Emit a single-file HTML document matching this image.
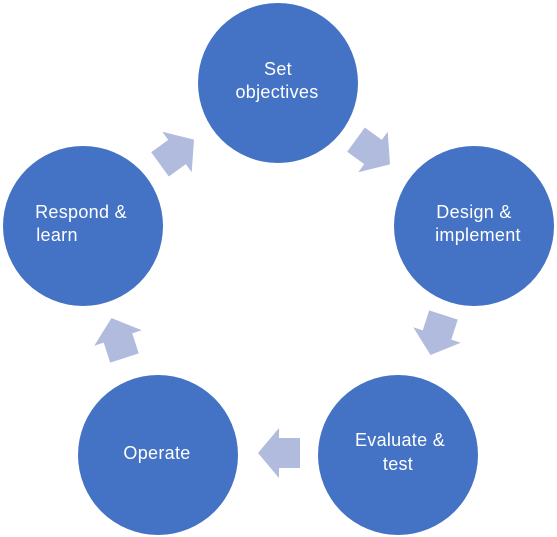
<!DOCTYPE html>
<html><head><style>
html,body{margin:0;padding:0;background:#fff;}
svg{display:block;}
text{font-family:"Liberation Sans",sans-serif;font-size:18px;fill:#fff;text-anchor:middle;letter-spacing:0.3px;}
</style></head><body>
<svg width="557" height="537" viewBox="0 0 557 537">
<defs>
<polygon id="a" points="-21,-15 0,-15 0,-25 21,0 0,25 0,15 -21,15" fill="#B0BBDE"/>
</defs>
<use href="#a" transform="translate(373,152) rotate(36)"/>
<use href="#a" transform="translate(437,335) rotate(108)"/>
<use href="#a" transform="translate(279,453) rotate(180)"/>
<use href="#a" transform="translate(118,338) rotate(252)"/>
<use href="#a" transform="translate(177,152) rotate(-36)"/>
<g fill="#4472C4">
<circle cx="278" cy="83" r="80"/>
<circle cx="474" cy="226" r="80"/>
<circle cx="398" cy="455" r="80"/>
<circle cx="158" cy="455" r="80"/>
<circle cx="83" cy="226" r="80"/>
</g>
<text x="278" y="75">Set</text>
<text x="277" y="98">objectives</text>
<text x="474" y="218">Design &amp;</text>
<text x="478" y="241">implement</text>
<text x="400" y="446">Evaluate &amp;</text>
<text x="398" y="470">test</text>
<text x="157" y="459">Operate</text>
<text x="81" y="218">Respond &amp;</text>
<text x="57" y="241">learn</text>
</svg>
</body></html>
